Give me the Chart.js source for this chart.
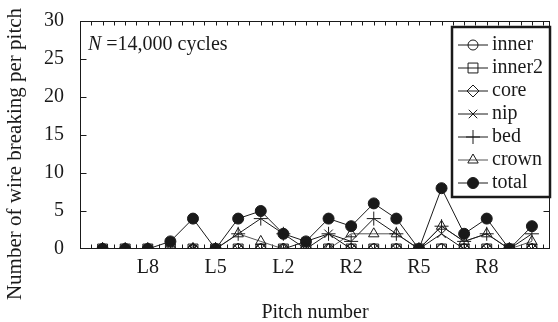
<!DOCTYPE html>
<html>
<head>
<meta charset="utf-8">
<script src="https://cdn.jsdelivr.net/npm/chart.js@4/dist/chart.umd.min.js"></script>
<style>
  html, body { margin: 0; padding: 0; background: #fff; }
  #wrap { width: 558px; height: 322px; }
</style>
</head>
<body>
<div id="wrap"><canvas id="c" width="558" height="322"></canvas></div>
<script>
// Pitch positions along the rope, left side L10..L1 then right side R1..R10
const pitches = ['L10','L9','L8','L7','L6','L5','L4','L3','L2','L1',
                 'R1','R2','R3','R4','R5','R6','R7','R8','R9','R10'];
const shownPitches = ['L8','L5','L2','R2','R5','R8'];
const yTickValues = [0, 5, 10, 15, 20, 25, 30];

// Wire breaks per pitch for each wire group
const inner  = [0,0,0,0,0,0,0,0,0,0, 0,0,0,0,0,0,0,0,0,0];
const inner2 = [0,0,0,0,0,0,0,0,0,0, 0,0,0,0,0,0,0,0,0,0];
const core   = [0,0,0,0,0,0,0,0,0,0, 0,0,0,0,0,0,0,0,0,0];
const nip    = [0,0,0,0,0,0,0,0,0,1, 2,0,0,0,0,2,0,0,0,0];
const bed    = [0,0,0,0,0,0,2,4,2,0, 2,1,4,2,0,3,1,2,0,2];
const crown  = [0,0,0,0,0,0,2,1,0,0, 0,2,2,2,0,3,1,2,0,1];
const total  = [0,0,0,1,4,0,4,5,2,1, 4,3,6,4,0,8,2,4,0,3];

const INK = '#1a1a1a';
const FONT = '"Liberation Serif", "Times New Roman", serif';

const toPoints = arr => arr.map((v, i) => ({ x: i + 1, y: v }));

function series(label, values, style, radius, opts = {}) {
  return Object.assign({
    label,
    data: toPoints(values),
    borderColor: INK,
    borderWidth: 1,
    pointStyle: style,
    pointRadius: radius,
    pointHoverRadius: radius,
    pointBorderWidth: 1,
    pointBorderColor: INK,
    pointBackgroundColor: 'rgba(0,0,0,0)',
    tension: 0,
    fill: false
  }, opts);
}

const datasets = [
  series('inner',  inner,  'circle',   5),
  series('inner2', inner2, 'rect',     7),
  series('core',   core,   'rectRot',  6),
  series('nip',    nip,    'crossRot', 6),
  series('bed',    bed,    'cross',    7),
  series('crown',  crown,  'triangle', 6, { borderColor: '#555' }),
  series('total',  total,  'circle',   5.5, { pointBackgroundColor: INK })
];

// Plot frame with inward tick marks on all four sides
const framePlugin = {
  id: 'frame',
  beforeDatasetsDraw(chart) {
    const { ctx, chartArea: a, scales: { x, y } } = chart;
    ctx.save();
    ctx.strokeStyle = INK;
    ctx.lineWidth = 1;
    const L = Math.round(a.left) + 0.5, R = Math.round(a.right) - 0.5;
    const T = Math.round(a.top) + 0.5, B = Math.round(a.bottom) - 0.5;
    ctx.strokeRect(L, T, R - L, B - T);
    ctx.beginPath();
    for (let v = 0.5; v <= 20.5; v += 0.5) {
      const px = Math.round(x.getPixelForValue(v)) + 0.5;
      ctx.moveTo(px, B); ctx.lineTo(px, B - 4);
      ctx.moveTo(px, T); ctx.lineTo(px, T + 4);
    }
    yTickValues.slice(1, -1).forEach(v => {
      const py = Math.round(y.getPixelForValue(v)) + 0.5;
      ctx.moveTo(L, py); ctx.lineTo(L + 6, py);
      ctx.moveTo(R, py); ctx.lineTo(R - 6, py);
    });
    ctx.stroke();
    ctx.restore();
  }
};

// Axis titles, cycle annotation and the boxed legend
const textPlugin = {
  id: 'texts',
  afterDatasetsDraw(chart) {
    const { ctx, chartArea: a } = chart;
    ctx.save();
    ctx.fillStyle = INK;
    ctx.font = '20px ' + FONT;
    ctx.textBaseline = 'alphabetic';

    ctx.textAlign = 'center';
    ctx.fillText('Pitch number', (a.left + a.right) / 2, 318);

    ctx.save();
    ctx.translate(21, 154);
    ctx.rotate(-Math.PI / 2);
    ctx.font = '21px ' + FONT;
    ctx.fillText('Number of wire breaking per pitch', 0, 0);
    ctx.restore();

    ctx.textAlign = 'left';
    ctx.font = 'italic 20px ' + FONT;
    ctx.fillText('N', 88, 50);
    const nw = ctx.measureText('N').width;
    ctx.font = '20px ' + FONT;
    ctx.fillText(' =14,000 cycles', 88 + nw, 50);

    // legend
    const bx = 452, by = 27, bw = 98, bh = 170;
    ctx.fillStyle = '#fff';
    ctx.fillRect(bx, by, bw, bh);
    ctx.strokeStyle = INK;
    ctx.lineWidth = 2.5;
    ctx.strokeRect(bx, by, bw, bh);
    chart.data.datasets.forEach((ds, i) => {
      const cy = 45 + i * 23;
      ctx.strokeStyle = ds.borderColor;
      ctx.lineWidth = 1;
      ctx.beginPath();
      ctx.moveTo(458, cy); ctx.lineTo(488, cy);
      ctx.stroke();
      ctx.strokeStyle = INK;
      ctx.fillStyle = ds.pointBackgroundColor;
      Chart.helpers.drawPoint(ctx, {
        pointStyle: ds.pointStyle, radius: ds.pointRadius, rotation: 0, borderWidth: 1
      }, 473, cy);
      ctx.fillStyle = INK;
      ctx.font = '20px ' + FONT;
      ctx.fillText(ds.label, 492, cy + 5);
    });
    ctx.restore();
  }
};

new Chart(document.getElementById('c'), {
  type: 'line',
  data: { datasets },
  options: {
    responsive: false,
    animation: false,
    devicePixelRatio: 1,
    layout: { padding: { top: 21, right: 3, left: 0, bottom: 0 } },
    plugins: { legend: { display: false }, tooltip: { enabled: false } },
    scales: {
      x: {
        type: 'linear',
        min: 0,
        max: 20.8,
        grid: { display: false },
        border: { display: false },
        afterFit: s => { s.height = 73; },
        afterBuildTicks: s => { s.ticks = pitches.map((p, i) => ({ value: i + 1 })); },
        ticks: {
          autoSkip: false,
          maxRotation: 0,
          padding: -1,
          color: INK,
          font: { family: FONT, size: 20 },
          callback: v => {
            const name = pitches[Math.round(v) - 1];
            return shownPitches.includes(name) ? name : '';
          }
        }
      },
      y: {
        min: 0,
        max: 30,
        grid: { display: false },
        border: { display: false },
        afterFit: s => { s.width = 80; },
        afterBuildTicks: s => { s.ticks = yTickValues.map(v => ({ value: v })); },
        ticks: {
          padding: 8,
          color: INK,
          font: { family: FONT, size: 20 }
        }
      }
    }
  },
  plugins: [framePlugin, textPlugin]
});
</script>
</body>
</html>
